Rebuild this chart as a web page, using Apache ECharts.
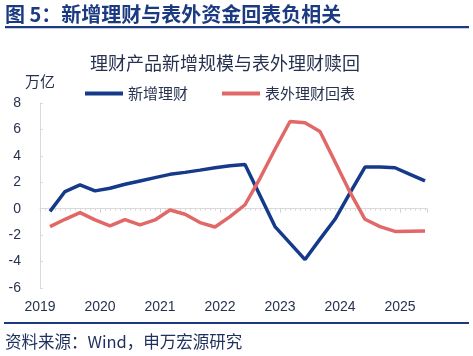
<!DOCTYPE html>
<html>
<head>
<meta charset="utf-8">
<script src="https://cdn.jsdelivr.net/npm/echarts@6/dist/echarts.min.js"></script>
<style>
html,body{margin:0;padding:0;background:#fff;}
#c{width:473px;height:356px;}
</style>
</head>
<body>
<div id="c"></div>
<script>
// Quarter-end months (data points)
const quarters = ['2019-03','2019-06','2019-09','2019-12','2020-03','2020-06','2020-09','2020-12',
  '2021-03','2021-06','2021-09','2021-12','2022-03','2022-06','2022-09','2022-12',
  '2023-03','2023-06','2023-09','2023-12','2024-03','2024-06','2024-09','2024-12',
  '2025-03','2025-06'];
// 新增理财 (万亿)
const newWealth = [-0.2, 1.3, 1.8, 1.35, 1.55, 1.85, 2.1, 2.35, 2.6, 2.75, 2.92, 3.1, 3.25, 3.35,
  1.0, -1.35, -2.6, -3.85, -2.3, -0.8, 1.2, 3.15, 3.15, 3.1, 2.6, 2.1];
// 表外理财回表 (万亿)
const offBalance = [-1.35, -0.8, -0.3, -0.85, -1.3, -0.82, -1.22, -0.85, -0.1, -0.42, -1.05, -1.38,
  -0.6, 0.3, 2.3, 4.5, 6.6, 6.5, 5.85, 3.55, 1.25, -0.8, -1.35, -1.72, -1.7, -1.68];
const seriesNames = ['新增理财', '表外理财回表'];
const yearTicks = [2019, 2020, 2021, 2022, 2023, 2024, 2025];

const toYear = q => { const [y, m] = q.split('-').map(Number); return y + (m - 1) / 12; };
const pairs = arr => quarters.map((q, i) => [toYear(q), arr[i]]);

const txt = '#26324f';
const navy = '#1b3a82';
const chart = echarts.init(document.getElementById('c'), null, {renderer: 'canvas'});
const xMin = yearTicks[0], xMax = 2025.45;
chart.setOption({
  animation: false,
  backgroundColor: '#fff',
  textStyle: {fontFamily: 'Arial, "Liberation Sans", "Noto Sans CJK SC", sans-serif'},
  graphic: [
    {type: 'text', left: 5, top: 4, style: {text: '图 5：新增理财与表外资金回表负相关', font: 'bold 20px "Noto Sans CJK SC", sans-serif', fill: navy}},
    {type: 'rect', shape: {x: 5, y: 26, width: 464, height: 2.2}, style: {fill: navy}},
    {type: 'text', left: 90, top: 54, style: {text: '理财产品新增规模与表外理财赎回', font: '18px "Noto Sans CJK SC", sans-serif', fill: txt}},
    {type: 'text', left: 25, top: 74, style: {text: '万亿', font: '15px "Noto Sans CJK SC", sans-serif', fill: txt}},
    {type: 'rect', shape: {x: 4, y: 322, width: 465, height: 2}, style: {fill: navy}},
    {type: 'text', left: 5, top: 333, style: {text: '资料来源：Wind，申万宏源研究', font: '16.5px "Noto Sans CJK SC", sans-serif', fill: '#1f2f5e'}}
  ],
  legend: {
    left: 80, top: 81,
    icon: 'rect', itemWidth: 38, itemHeight: 4, itemGap: 34,
    textStyle: {fontSize: 15, color: txt, fontFamily: '"Noto Sans CJK SC", sans-serif'},
    data: seriesNames
  },
  grid: {left: 40, top: 103, width: 387, height: 185, containLabel: false},
  xAxis: [
    {
      type: 'value', min: xMin, max: xMax, interval: 1, position: 'bottom',
      axisLine: {show: false, onZero: false}, axisTick: {show: false}, splitLine: {show: false},
      axisLabel: {fontSize: 14, color: txt, margin: 12,
        formatter: v => (yearTicks.indexOf(v) >= 0 ? String(v) : '')}
    },
    {
      type: 'value', min: xMin, max: xMax, interval: 1, position: 'bottom',
      axisLine: {show: true, onZero: true, lineStyle: {color: '#d9d9d9', width: 1}},
      axisTick: {show: true, length: 4, lineStyle: {color: '#d0d0d0'}},
      minorTick: {show: true, splitNumber: 12, length: 2, lineStyle: {color: '#d9d9d9'}},
      axisLabel: {show: false}, splitLine: {show: false}
    }
  ],
  yAxis: {
    type: 'value', min: -6, max: 8, interval: 2,
    axisLine: {show: true, onZero: false, lineStyle: {color: '#d9d9d9'}},
    axisTick: {show: true, inside: true, length: 3, lineStyle: {color: '#d9d9d9'}},
    splitLine: {show: false},
    axisLabel: {fontSize: 14, color: txt, margin: 19}
  },
  series: [
    {name: seriesNames[0], type: 'line', xAxisIndex: 0, data: pairs(newWealth), showSymbol: false,
      lineStyle: {color: '#163a8a', width: 3.5}, itemStyle: {color: '#163a8a'}},
    {name: seriesNames[1], type: 'line', xAxisIndex: 0, data: pairs(offBalance), showSymbol: false,
      lineStyle: {color: '#e26868', width: 3.5}, itemStyle: {color: '#e26868'}}
  ]
});
</script>
</body>
</html>
